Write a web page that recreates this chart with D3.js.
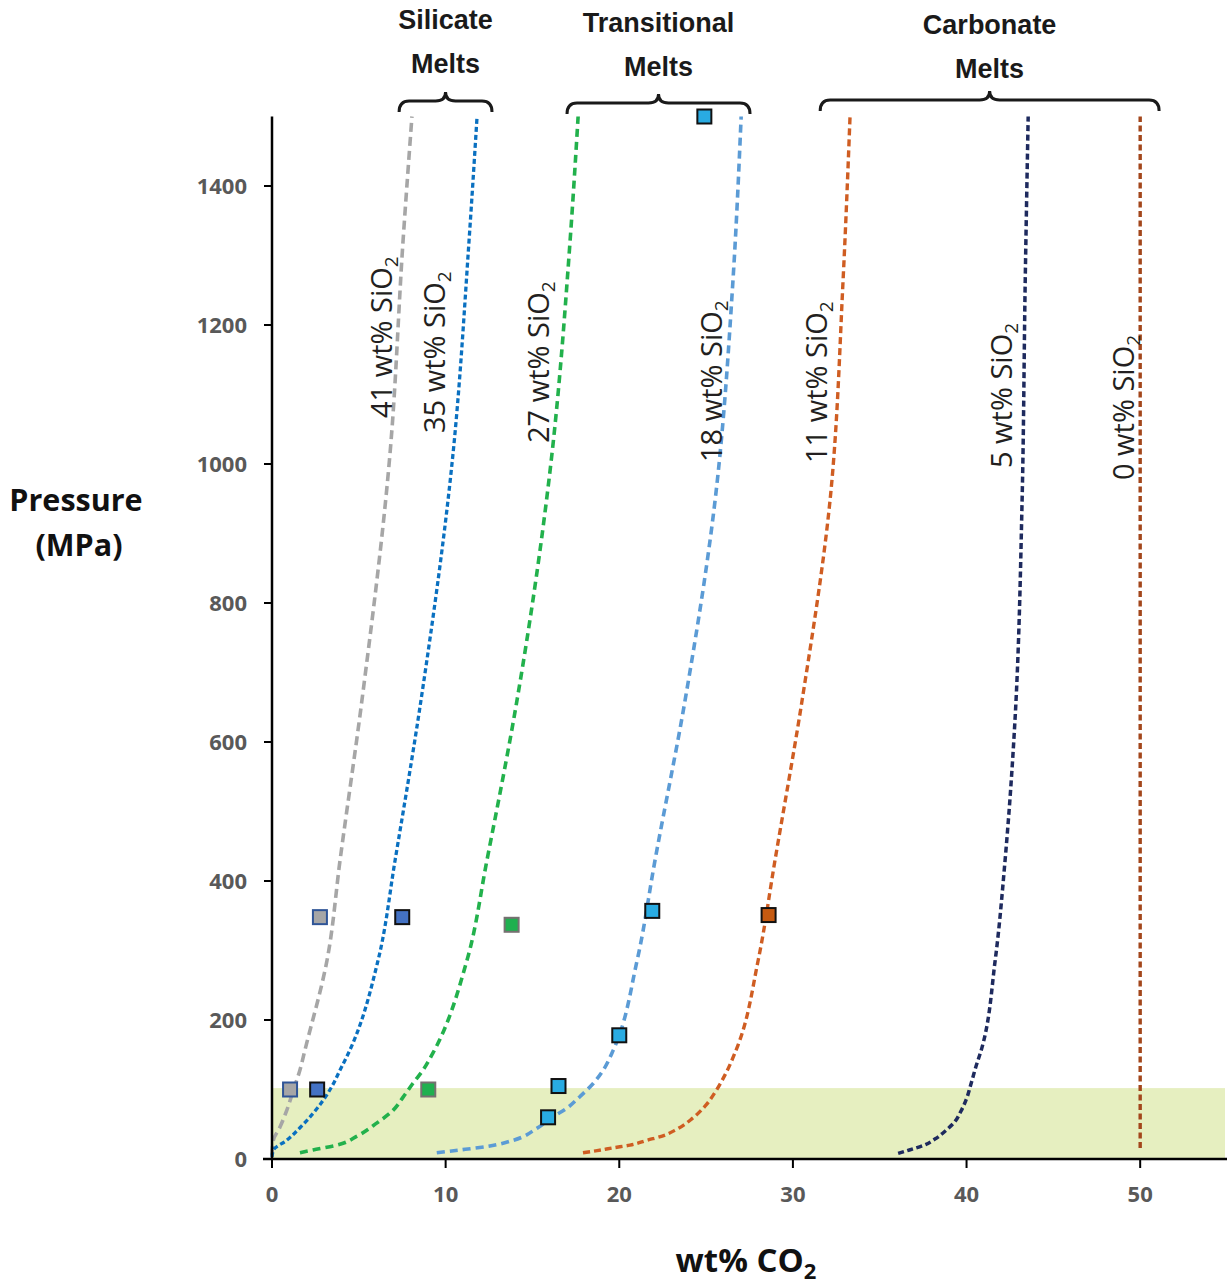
<!DOCTYPE html>
<html><head><meta charset="utf-8">
<script src="https://cdn.jsdelivr.net/npm/d3@7"></script>
<style>body{margin:0;background:#fff}svg{display:block}</style>
</head><body>
<svg id="chart" width="1227" height="1285"></svg>
<script>
// ---------- data ----------
const xTicks = [0, 10, 20, 30, 40, 50];
const yTicks = [0, 200, 400, 600, 800, 1000, 1200, 1400];

const sio2Labels = ["41", "35", "27", "18", "11", "5", "0"];
const lineColors = ["#a6a6a6", "#0a70c0", "#22b14c", "#5b9bd5", "#cf5d22", "#1e2a5e", "#a3461b"];

const co2_41 = [0.00, 0.08, 0.46, 0.85, 1.23, 1.61, 1.90, 3.17, 3.92, 5.18, 6.80, 7.55, 8.06];
const p_41   = [6, 27, 46, 70, 99, 128, 157, 286, 430, 660, 1016, 1322, 1500];
const co2_35 = [0.00, 0.08, 0.85, 1.61, 2.38, 2.96, 3.44, 3.92, 4.49, 6.11, 7.09, 8.58, 10.43, 11.35, 11.81];
const p_35   = [3, 13, 27, 45, 66, 85, 104, 128, 157, 286, 430, 660, 1016, 1322, 1500];
const co2_27 = [1.61, 2.36, 3.74, 4.90, 6.05, 6.97, 7.55, 8.12, 8.70, 9.28, 11.23, 12.38, 14.11, 16.13, 17.17, 17.63];
const p_27   = [9, 13, 20, 33, 52, 70, 89, 109, 128, 153, 286, 430, 660, 1016, 1322, 1500];
const co2_18 = [9.49, 10.83, 12.37, 13.90, 15.25, 16.20, 16.97, 17.74, 18.51, 19.08, 19.66, 21.03, 22.06, 23.79, 25.52, 26.55, 27.02];
const p_18   = [9, 13, 18, 27, 44, 61, 73, 90, 109, 128, 157, 286, 430, 660, 948, 1265, 1500];
const co2_11 = [17.91, 18.72, 19.64, 20.62, 21.60, 22.47, 23.33, 24.19, 24.94, 25.52, 26.09, 26.84, 28.00, 28.97, 30.53, 32.14, 32.89, 33.29];
const p_11   = [9, 12, 16, 20, 27, 33, 43, 58, 76, 96, 121, 164, 286, 430, 660, 948, 1265, 1500];
const co2_5  = [36.06, 36.71, 37.56, 38.20, 38.85, 39.34, 39.66, 39.99, 40.21, 40.53, 40.85, 41.65, 42.22, 42.80, 43.20, 43.38, 43.55];
const p_5    = [8, 13, 20, 29, 42, 54, 68, 86, 104, 132, 157, 286, 430, 636, 948, 1265, 1500];
const co2_0  = [50, 50];
const p_0    = [16, 1500];

// experimental points
const ptCo2   = [1.04, 2.76, 2.60, 7.50, 9.00, 13.80, 15.90, 16.50, 20.00, 21.90, 24.90, 28.60];
const ptP     = [100, 348, 100, 348, 100, 337, 60, 105, 178, 357, 1500, 351];
const ptGroup = [0, 0, 1, 1, 2, 2, 3, 3, 3, 3, 3, 4];
const ptFill   = ["#a6a6a6", "#4472c4", "#1fb04f", "#29abe2", "#c55a11"];
const ptStroke = ["#2f5597", "#111111", "#767171", "#111111", "#111111"];

// shaded low-pressure band
const bandP = [0, 102];

// group annotations
const groupNames = [["Silicate", "Melts"], ["Transitional", "Melts"], ["Carbonate", "Melts"]];
const groupSpan = [[7.32, 12.67], [16.99, 27.53], [31.57, 51.09]];

// ---------- layout ----------
const svg = d3.select("#chart");
const x = d3.scaleLinear().domain([0, 55]).range([272, 1227]);
const y = d3.scaleLinear().domain([0, 1500]).range([1159, 116.5]);

// band
svg.append("rect")
  .attr("x", x(0)).attr("y", y(bandP[1]))
  .attr("width", x(55) - x(0) - 2).attr("height", y(bandP[0]) - y(bandP[1]))
  .attr("fill", "#e6efc0");

// curves
const series = [
  [co2_41, p_41], [co2_35, p_35], [co2_27, p_27], [co2_18, p_18],
  [co2_11, p_11], [co2_5, p_5], [co2_0, p_0]
];
const dashes = ["9,5", "5,3", "8,5", "8,5", "7,4", "6,3.5", "6,3.5"];
const widths = [3.6, 3.3, 3.6, 3.6, 3.4, 3.5, 3.4];
const line = d3.line().x(d => x(d[0])).y(d => y(d[1])).curve(d3.curveMonotoneY);
series.forEach((s, i) => {
  const pts = s[0].map((v, k) => [v, s[1][k]]);
  svg.append("path").datum(pts)
    .attr("d", line)
    .attr("fill", "none")
    .attr("stroke", lineColors[i])
    .attr("stroke-width", widths[i])
    .attr("stroke-dasharray", dashes[i])
    .attr("stroke-linecap", "butt");
});

// axes
const axisG = svg.append("g");
axisG.append("line").attr("x1", x(0)).attr("x2", x(0)).attr("y1", y(1500)).attr("y2", y(0) + 1)
  .attr("stroke", "#000").attr("stroke-width", 2.5);
axisG.append("line").attr("x1", 263).attr("x2", 1227).attr("y1", y(0)).attr("y2", y(0))
  .attr("stroke", "#000").attr("stroke-width", 2.5);
yTicks.forEach(t => {
  axisG.append("line").attr("x1", x(0) - 8).attr("x2", x(0)).attr("y1", y(t)).attr("y2", y(t))
    .attr("stroke", "#000").attr("stroke-width", 2);
  axisG.append("text").attr("x", 247).attr("y", y(t)).attr("dy", "0.36em")
    .attr("text-anchor", "end").attr("font-family", "Open Sans").attr("font-weight", 700)
    .attr("font-size", 22).attr("fill", "#595959").text(t);
});
xTicks.forEach(t => {
  axisG.append("line").attr("x1", x(t)).attr("x2", x(t)).attr("y1", y(0)).attr("y2", y(0) + 9)
    .attr("stroke", "#000").attr("stroke-width", 2);
  axisG.append("text").attr("x", x(t)).attr("y", 1202)
    .attr("text-anchor", "middle").attr("font-family", "Open Sans").attr("font-weight", 700)
    .attr("font-size", 22).attr("fill", "#595959").text(t);
});

// axis titles
const xt = svg.append("text").attr("x", 746).attr("y", 1272).attr("text-anchor", "middle")
  .attr("font-family", "Open Sans").attr("font-weight", 700).attr("font-size", 33).attr("fill", "#111");
xt.append("tspan").text("wt% CO");
xt.append("tspan").attr("font-size", 22).attr("dy", 7).text("2");
const yt = svg.append("text").attr("text-anchor", "middle")
  .attr("font-family", "Open Sans").attr("font-weight", 700).attr("font-size", 30.5).attr("fill", "#111");
yt.append("tspan").attr("x", 76).attr("y", 511).text("Pressure");
yt.append("tspan").attr("x", 79).attr("y", 556).text("(MPa)");

// squares
const sz = 14;
ptCo2.forEach((v, i) => {
  const g = ptGroup[i];
  svg.append("rect")
    .attr("x", x(v) - sz / 2).attr("y", y(ptP[i]) - sz / 2)
    .attr("width", sz).attr("height", sz)
    .attr("fill", ptFill[g]).attr("stroke", ptStroke[g]).attr("stroke-width", 2);
});

// curve labels
const labelPos = [[392, 418], [445, 433], [549, 443], [722, 462], [827, 463], [1012, 468], [1134, 480]];
sio2Labels.forEach((l, i) => {
  const t = svg.append("text")
    .attr("transform", `translate(${labelPos[i][0]},${labelPos[i][1]}) rotate(-90)`)
    .attr("font-family", "Open Sans").attr("font-size", 29).attr("fill", "#231f20");
  t.append("tspan").text(l + " wt% SiO");
  t.append("tspan").attr("font-size", 19).attr("dy", 6).text("2");
});

// group braces and names
const braceY = [101, 103, 100];
const nameY = [[29, 73], [32, 76], [34, 78]];
function brace(x1, x2, yb) {
  const xm = (x1 + x2) / 2, r = 10, h = 11, hp = 9;
  return `M${x1},${yb + h} Q${x1},${yb} ${x1 + r},${yb} L${xm - r},${yb} Q${xm},${yb} ${xm},${yb - hp}` +
         ` Q${xm},${yb} ${xm + r},${yb} L${x2 - r},${yb} Q${x2},${yb} ${x2},${yb + h}`;
}
groupSpan.forEach((s, i) => {
  const x1 = x(s[0]), x2 = x(s[1]);
  svg.append("path").attr("d", brace(x1, x2, braceY[i]))
    .attr("fill", "none").attr("stroke", "#1a1a1a").attr("stroke-width", 3);
  const cx = (x1 + x2) / 2;
  groupNames[i].forEach((n, k) => {
    svg.append("text").attr("x", cx).attr("y", nameY[i][k]).attr("text-anchor", "middle")
      .attr("font-family", "Liberation Sans, Arial").attr("font-weight", 700)
      .attr("font-size", 27).attr("fill", "#1a1a1a").text(n);
  });
});
</script>
</body></html>
